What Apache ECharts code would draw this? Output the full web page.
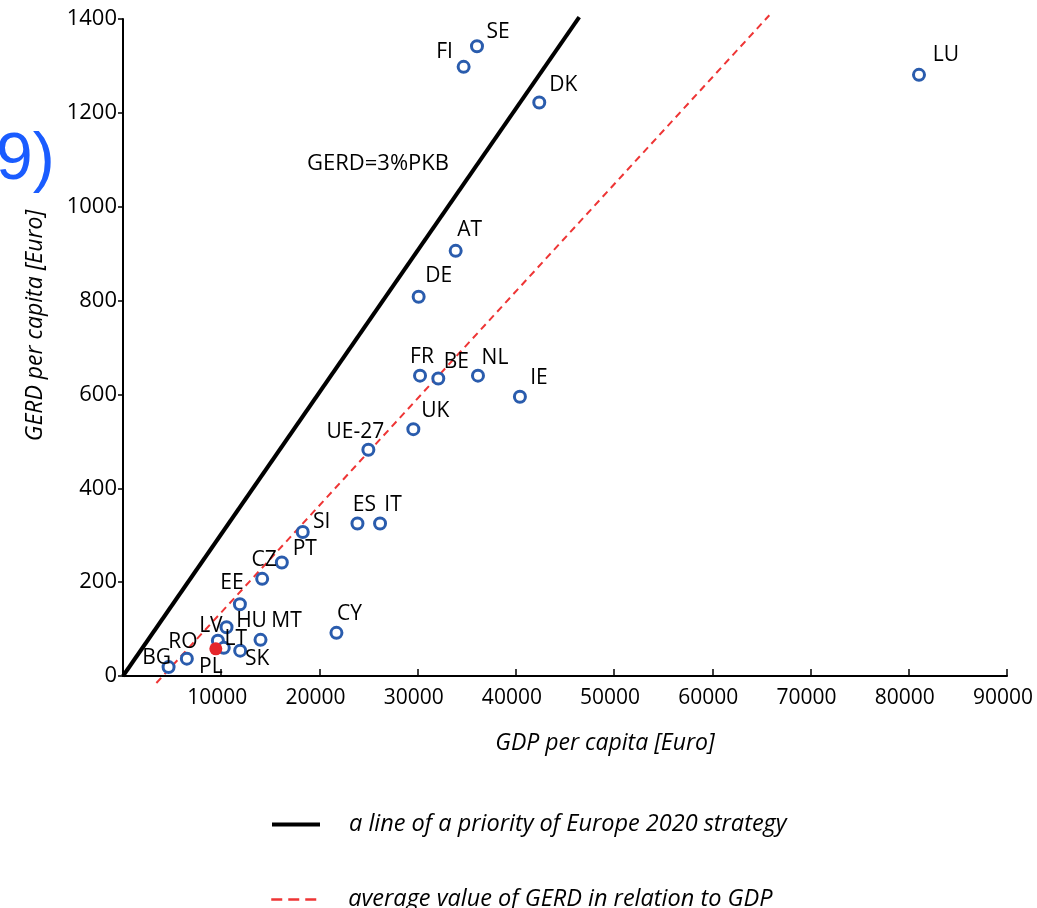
<!DOCTYPE html>
<html>
<head>
<meta charset="utf-8">
<script src="https://cdn.jsdelivr.net/npm/echarts@6/dist/echarts.min.js"></script>
<style>html,body{margin:0;padding:0;background:#fff}#c{width:1037px;height:908px}</style>
</head>
<body>
<div id="c"></div>
<script>
// ---- data ----
const countries = ['SE','FI','DK','LU','AT','DE','FR','BE','NL','IE','UK','UE-27','ES','IT','SI','PT','CZ','EE','LV','HU','MT','LT','SK','PL','RO','BG','CY'];
const gdp  = [36040,34680,42380,81040,33870,30100,30240,32100,36140,40410,29560,24980,23870,26170,18300,16170,14170,11900,9660,10540,14000,10260,11930,9450,6500,4640,21730];
const gerd = [1342,1298,1222,1281,906,808,640,634,640,595,526,482,325,325,307,242,207,153,75,104,77,60,54,58,37,19,92];
const highlighted = 'PL';
const priorityLineX = [0, 46450];
const priorityLineY = [0, 1404];
const averageLineX = [3400, 65800];
const averageLineY = [-15, 1408];
const xTicks = {min: 0, max: 90000, interval: 10000};
const yTicks = {min: 0, max: 1400, interval: 200};
const legendNames = ['a line of a priority of Europe 2020 strategy', 'average value of GERD in relation to GDP'];

// ---- label placement (style only) ----
const labelOffsets = {
  SE:[21,-14], FI:[-19,-15], DK:[24,-18], LU:[27,-20], AT:[14,-21], DE:[20,-21],
  FR:[2,-19], BE:[18,-16], NL:[17,-18], IE:[19,-19], UK:[22,-18], 'UE-27':[-13,-18],
  ES:[7,-18], IT:[13,-18], SI:[19,-10], PT:[23,-13], CZ:[2,-19], EE:[-8,-21],
  LV:[-7,-15], HU:[25,-6], MT:[26,-19], LT:[12,-9], SK:[17,8], PL:[-5,18],
  RO:[-4,-17], BG:[-12,-9], CY:[13,-19]
};

const FONT = 'Open Sans';
const pts = countries.map((c, i) => {
  const isHi = c === highlighted;
  return {
    name: c,
    value: [gdp[i], gerd[i]],
    symbolSize: isHi ? 13 : 11,
    itemStyle: isHi ? {color:'#e5262b', borderColor:'#e5262b', borderWidth:0, opacity:1}
                    : {color:'#ffffff', borderColor:'#2a5cad', borderWidth:3, opacity:1},
    label: {show:true, formatter:c, position:'inside', offset: labelOffsets[c] || [15,-15],
            color:'#000', fontFamily:FONT, fontSize:21, textBorderWidth:0}
  };
});

const legendBase = {
  orient:'horizontal', left:265, itemWidth:48, itemHeight:14,
  itemStyle:{opacity:0, borderWidth:0},
  textStyle:{fontFamily:FONT, fontStyle:'italic', fontSize:23.5, color:'#000', padding:[0,0,0,24]}
};

const chart = echarts.init(document.getElementById('c'), null, {renderer:'canvas'});
chart.setOption({
  animation: false,
  backgroundColor: '#ffffff',
  grid: {left:123, right:30, top:19, bottom:232, outerBoundsMode:'none', containLabel:false},
  xAxis: {
    type:'value', min:xTicks.min, max:xTicks.max, interval:xTicks.interval,
    name:'GDP per capita [Euro]', nameLocation:'middle', nameGap:56,
    nameTextStyle:{fontFamily:FONT, fontStyle:'italic', fontSize:23, color:'#000', padding:[0,0,0,80]},
    axisLine:{show:true, lineStyle:{color:'#000', width:2}},
    axisTick:{show:true, inside:true, length:7, lineStyle:{color:'#000', width:1.5}},
    axisLabel:{showMinLabel:false, formatter: v => v === 0 ? '' : String(v), margin:12, padding:[0,8,0,0], fontFamily:FONT, fontSize:21, color:'#000'},
    splitLine:{show:false}
  },
  yAxis: {
    type:'value', min:yTicks.min, max:yTicks.max, interval:yTicks.interval,
    name:'GERD per capita [Euro]', nameLocation:'middle', nameGap:76,
    nameTextStyle:{fontFamily:FONT, fontStyle:'italic', fontSize:23, color:'#000', padding:[0,0,0,44]},
    axisLine:{show:true, lineStyle:{color:'#000', width:2}},
    axisTick:{show:true, inside:false, length:5, lineStyle:{color:'#000', width:1.5}},
    axisLabel:{margin:6, formatter: v => String(v), fontFamily:FONT, fontSize:22, color:'#000'},
    splitLine:{show:false}
  },
  legend: [
    Object.assign({}, legendBase, {top:808, data:[legendNames[0]], lineStyle:{width:4}}),
    Object.assign({}, legendBase, {top:883, data:[legendNames[1]], lineStyle:{width:2.5, type:[11,6]}})
  ],
  graphic: [
    {type:'text', left:-4, top:128, style:{text:'9)', fontFamily:'Liberation Sans', fontSize:66, fill:'#1a5cff'}},
    {type:'text', x:307, y:153, style:{text:'GERD=3%PKB', fontFamily:FONT, fontSize:22, fill:'#000'}}
  ],
  series: [
    {
      name: legendNames[0], type:'line', clip:false, symbol:'none', silent:true,
      data: priorityLineX.map((x, i) => [x, priorityLineY[i]]),
      lineStyle:{color:'#000', width:4}, itemStyle:{color:'#000'}
    },
    {
      name: legendNames[1], type:'line', clip:false, symbol:'none', silent:true,
      data: averageLineX.map((x, i) => [x, averageLineY[i]]),
      lineStyle:{color:'#ee3535', width:2, type:[7,5]}, itemStyle:{color:'#ee3535'}
    },
    {
      name:'countries', type:'scatter', clip:false, data: pts, z:5
    }
  ]
});
</script>
</body>
</html>
